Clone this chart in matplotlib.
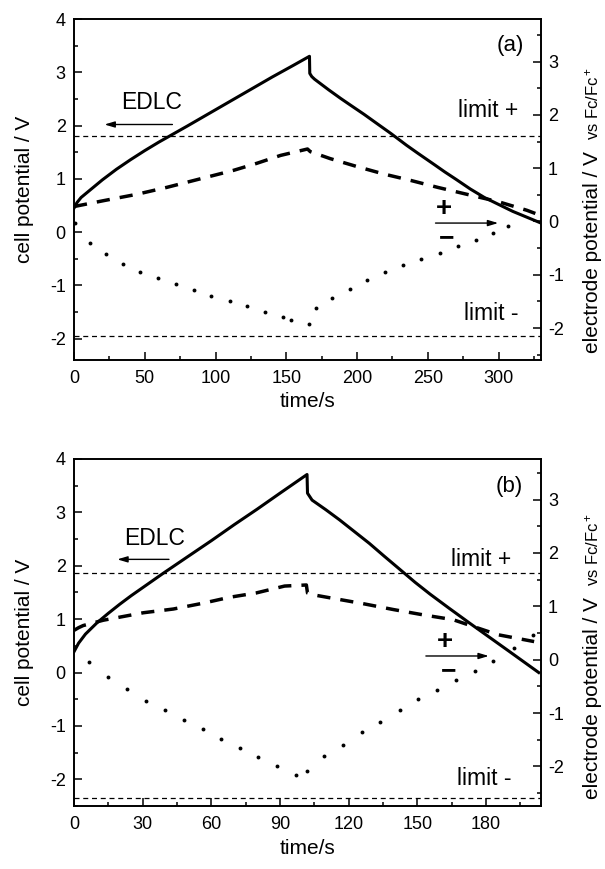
import matplotlib
matplotlib.use('Agg')
import matplotlib.pyplot as plt
from matplotlib.ticker import MultipleLocator

plt.rcParams['font.family'] = ['Liberation Sans', 'DejaVu Sans']
plt.rcParams['mathtext.fontset'] = 'custom'
plt.rcParams['mathtext.rm'] = 'Liberation Sans'
plt.rcParams['mathtext.it'] = 'Liberation Sans:italic'
plt.rcParams['mathtext.bf'] = 'Liberation Sans:bold'
plt.rcParams['axes.unicode_minus'] = False

# ---- panel (a) ----
# cell voltage (left axis)
t_cell_a = [0, 2, 5, 10, 15, 20, 30, 40, 50, 60, 70, 80, 95, 110, 125, 140, 155, 166.4,
            166.6, 168, 170, 175, 180, 188.4, 195, 205, 215, 224, 235, 243, 255, 262,
            270, 280, 290, 300, 310, 320, 330]
v_cell_a = [0.45, 0.55, 0.65, 0.76, 0.87, 0.98, 1.18, 1.36, 1.53, 1.69, 1.84, 1.99, 2.22,
            2.45, 2.68, 2.91, 3.13, 3.30,
            2.98, 2.92, 2.87, 2.77, 2.67, 2.51, 2.39, 2.21, 2.02, 1.85, 1.63, 1.48, 1.26,
            1.13, 0.99, 0.81, 0.65, 0.52, 0.39, 0.28, 0.17]
# positive electrode (right axis)
t_pos_a = [0, 20.8, 44.4, 65.6, 89.2, 112.8, 129, 146, 165, 167, 181, 200, 219, 238,
           257, 276, 300, 320, 326]
v_pos_a = [0.28, 0.39, 0.51, 0.64, 0.80, 0.96, 1.09, 1.24, 1.36, 1.31, 1.18, 1.03, 0.89,
           0.77, 0.64, 0.52, 0.37, 0.21, 0.15]
# negative electrode (right axis)
t_neg_a = [0.7, 11.3, 22.7, 34.9, 46.7, 59.3, 72, 84.5, 97, 110, 122.3, 135.3, 147.8, 153,
           166, 170.7, 182.5, 195, 207.3, 219.8, 232.5, 245.3, 258.3, 271, 284, 296, 307]
v_neg_a = [-0.02, -0.40, -0.61, -0.79, -0.94, -1.06, -1.17, -1.28, -1.39, -1.50, -1.59,
           -1.70, -1.80, -1.84, -1.93, -1.62, -1.43, -1.26, -1.09, -0.95, -0.82, -0.71,
           -0.59, -0.46, -0.34, -0.21, -0.09]
limits_a = [1.6, -2.15]   # electrode potential limits (right axis)

# ---- panel (b) ----
t_cell_b = [0, 2, 5, 10, 15, 20, 25, 30, 39, 50, 60, 70, 80, 90, 101.8,
            102, 104, 110, 116, 122.5, 129, 135.5, 142.4, 149, 155.5, 164, 173, 181.5,
            190, 196.5, 203]
v_cell_b = [0.39, 0.55, 0.72, 0.93, 1.11, 1.28, 1.44, 1.59, 1.86, 2.18, 2.47, 2.77, 3.06,
            3.36, 3.71,
            3.36, 3.23, 3.05, 2.86, 2.64, 2.42, 2.18, 1.93, 1.69, 1.47, 1.20, 0.92, 0.66,
            0.40, 0.20, 0.0]
t_pos_b = [0, 2, 4, 12.8, 30.3, 43.4, 56.5, 68, 79.5, 92, 101.5, 102, 104, 111.8, 126.3,
           139.5, 152.6, 165.6, 185, 201]
v_pos_b = [0.55, 0.60, 0.64, 0.74, 0.88, 0.95, 1.06, 1.17, 1.25, 1.38, 1.40, 1.25, 1.22,
           1.16, 1.05, 0.94, 0.84, 0.75, 0.47, 0.34]
t_neg_b = [6.7, 15, 23.3, 31.4, 39.7, 48, 56.2, 64.3, 72.5, 80.5, 88.8, 97, 101.9, 109.3,
           117.6, 125.8, 133.8, 142.2, 150.4, 158.5, 166.8, 175, 183, 192, 200.5]
v_neg_b = [-0.04, -0.33, -0.55, -0.77, -0.95, -1.13, -1.30, -1.48, -1.66, -1.83, -1.99,
           -2.15, -2.09, -1.80, -1.60, -1.36, -1.16, -0.94, -0.74, -0.56, -0.38, -0.21,
           -0.03, 0.22, 0.46]
limits_b = [1.63, -2.59]

fig = plt.figure(figsize=(6.05, 8.69), dpi=100)

ax_a = fig.add_axes([74/605, 1 - 360/869, 467/605, 341/869])
ax_b = fig.add_axes([74/605, 1 - 806/869, 467/605, 347/869])


def draw_panel(ax, t_cell, v_cell, t_pos, v_pos, t_neg, v_neg, limits,
               xlim, ylim, ylim2, xmaj, tag, edlc, arrow_pm, limit_txt):
    ax2 = ax.twinx()
    ax.plot(t_cell, v_cell, color='black', lw=2.2, solid_joinstyle='round')
    ax2.plot(t_pos, v_pos, color='black', lw=2.5, dashes=(3.8, 2.9))
    ax2.plot(t_neg, v_neg, 'o', color='black', ms=2.8, mew=0)
    for lim in limits:
        ax2.axhline(lim, color='black', lw=0.9, dashes=(4, 3))

    ax.set_xlim(*xlim)
    ax.set_ylim(*ylim)
    ax2.set_ylim(*ylim2)
    ax.xaxis.set_major_locator(MultipleLocator(xmaj))
    ax.xaxis.set_minor_locator(MultipleLocator(xmaj / 2))
    ax.yaxis.set_major_locator(MultipleLocator(1))
    ax.yaxis.set_minor_locator(MultipleLocator(0.5))
    ax2.yaxis.set_major_locator(MultipleLocator(1))
    ax2.yaxis.set_minor_locator(MultipleLocator(0.5))

    ax.tick_params(which='both', direction='in', top=False, right=False,
                   width=1.1, labelsize=13)
    ax.tick_params(which='major', length=6)
    ax.tick_params(which='minor', length=3)
    ax.tick_params(axis='x', pad=7)
    ax.tick_params(axis='y', pad=6)
    ax2.tick_params(which='both', direction='in', width=1.1, labelsize=13, pad=5)
    ax2.tick_params(which='major', length=6)
    ax2.tick_params(which='minor', length=3)
    for a in (ax, ax2):
        for s in a.spines.values():
            s.set_linewidth(1.2)

    ax.set_xlabel('time/s', fontsize=15)
    ax.xaxis.set_label_coords(0.5, -0.095)
    ax.set_ylabel('cell potential / V', fontsize=15)
    ax.yaxis.set_label_coords(-0.085, 0.5)

    main = ax.text(1.111, 0.02, 'electrode potential / V', transform=ax.transAxes,
                   rotation=90, ha='center', va='bottom', fontsize=15)
    ax.annotate('vs Fc/Fc$^+$', xy=(1, 1), xycoords=main, xytext=(-1, 8),
                textcoords='offset points', rotation=90, ha='right', va='bottom',
                fontsize=12)

    ax.text(tag[0], tag[1], tag[2], fontsize=16, ha='center', va='center')

    # EDLC label and arrow (left axis)
    ax.text(edlc[0], edlc[1], 'EDLC', fontsize=16.5, ha='center', va='center')
    ax.annotate('', xy=(edlc[3], edlc[2]), xytext=(edlc[4], edlc[2]),
                arrowprops=dict(arrowstyle='-|>,head_length=0.6,head_width=0.18',
                                lw=1, color='black'))

    # +/- electrode labels and arrow (right axis)
    ax2.text(arrow_pm[0], arrow_pm[1], '+', fontsize=20, fontweight='bold',
             ha='center', va='center')
    ax2.text(arrow_pm[2], arrow_pm[3], '\u2212', fontsize=19, fontweight='bold',
             ha='center', va='center')
    ax2.annotate('', xy=(arrow_pm[6], arrow_pm[4]), xytext=(arrow_pm[5], arrow_pm[4]),
                 arrowprops=dict(arrowstyle='-|>,head_length=0.6,head_width=0.18',
                                 lw=1, color='black'))

    ax2.text(limit_txt[0], limit_txt[1], 'limit +', fontsize=16.5, ha='right', va='center')
    ax2.text(limit_txt[0], limit_txt[2], 'limit -', fontsize=16.5, ha='right', va='center')
    return ax2


draw_panel(ax_a, t_cell_a, v_cell_a, t_pos_a, v_pos_a, t_neg_a, v_neg_a, limits_a,
           xlim=(0, 330), ylim=(-2.4, 4), ylim2=(-2.6, 3.8), xmaj=50,
           tag=(308, 3.5, '(a)'), edlc=(54.5, 2.44, 2.02, 19.6, 71.5),
           arrow_pm=(261.5, 0.24, 263, -0.32, -0.03, 253.5, 301.7),
           limit_txt=(314, 2.08, -1.73))

draw_panel(ax_b, t_cell_b, v_cell_b, t_pos_b, v_pos_b, t_neg_b, v_neg_b, limits_b,
           xlim=(0, 204), ylim=(-2.5, 4), ylim2=(-2.74, 3.76), xmaj=30,
           tag=(190, 3.49, '(b)'), edlc=(35, 2.51, 2.12, 17.7, 42.7),
           arrow_pm=(162, 0.34, 163.5, -0.21, 0.07, 152.5, 182.4),
           limit_txt=(191, 1.88, -2.22))

fig.savefig('out.png', dpi=100)
